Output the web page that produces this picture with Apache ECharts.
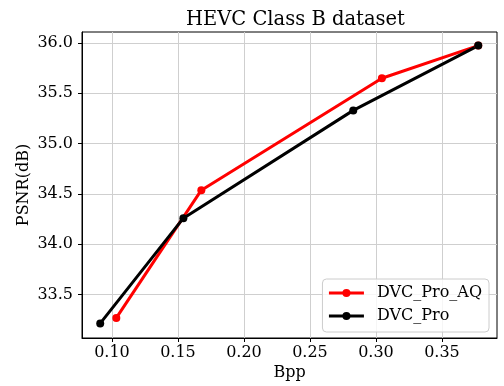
<!DOCTYPE html>
<html>
<head>
<meta charset="utf-8">
<script src="https://cdn.jsdelivr.net/npm/echarts@6/dist/echarts.min.js"></script>
<style>html,body{margin:0;padding:0;background:#fff;}#c{width:504px;height:386px;}</style>
</head>
<body>
<div id="c"></div>
<script>
const titleText = 'HEVC Class B dataset';
const xName = 'Bpp';
const yName = 'PSNR(dB)';
const aqName = 'DVC_Pro_AQ';
const aqBpp = [0.1033, 0.1677, 0.3045, 0.3775];
const aqPsnr = [33.267, 34.536, 35.648, 35.973];
const proName = 'DVC_Pro';
const proBpp = [0.0911, 0.1541, 0.2828, 0.3775];
const proPsnr = [33.212, 34.258, 35.329, 35.973];
const xTicks = [0.10, 0.15, 0.20, 0.25, 0.30, 0.35];
const yTicks = [33.5, 34.0, 34.5, 35.0, 35.5, 36.0];

const font = 'DejaVu Serif';
const chart = echarts.init(document.getElementById('c'), null, {renderer: 'canvas'});
const pair = (xs, ys) => xs.map((x, i) => [x, ys[i]]);
chart.setOption({
  animation: false,
  backgroundColor: '#fff',
  title: {
    text: titleText, left: 181, top: 5,
    textStyle: {fontFamily: font, fontSize: 19.5, fontWeight: 'normal', color: '#000'}
  },
  grid: {left: 82, right: 7, top: 32, bottom: 45, show: true, borderColor: '#000', borderWidth: 1, containLabel: false},
  legend: {
    right: 15, top: 279, orient: 'vertical',
    data: [aqName, proName],
    itemWidth: 35, itemHeight: 10, itemGap: 7,
    padding: [6, 7, 8, 5],
    lineStyle: {width: 3},
    backgroundColor: 'rgba(255,255,255,0.8)', borderColor: '#cccccc', borderWidth: 1, borderRadius: 4,
    textStyle: {fontFamily: font, fontSize: 16, color: '#000', padding: [0, 0, 0, 8]}
  },
  xAxis: {
    type: 'value', min: 0.0773, max: 0.3917,
    name: xName, nameLocation: 'middle', nameGap: 27, nameMoveOverlap: false,
    nameTextStyle: {fontFamily: font, fontSize: 16, color: '#000'},
    axisLine: {show: true, lineStyle: {color: '#000'}},
    axisTick: {show: true, customValues: xTicks, length: 4, lineStyle: {color: '#000'}},
    axisLabel: {customValues: xTicks, formatter: v => v.toFixed(2), fontFamily: font, fontSize: 16, color: '#000', margin: 7},
    splitLine: {show: true, lineStyle: {color: '#cfcfcf', width: 1}}
  },
  yAxis: {
    type: 'value', min: 33.067, max: 36.108,
    name: yName, nameLocation: 'middle', nameGap: 50, nameRotate: 90, nameMoveOverlap: false,
    nameTextStyle: {fontFamily: font, fontSize: 16, color: '#000'},
    axisLine: {show: true, lineStyle: {color: '#000'}},
    axisTick: {show: true, customValues: yTicks, length: 4, lineStyle: {color: '#000'}},
    axisLabel: {customValues: yTicks, formatter: v => v.toFixed(1), fontFamily: font, fontSize: 16, color: '#000', margin: 9},
    splitLine: {show: true, lineStyle: {color: '#cfcfcf', width: 1}}
  },
  series: [
    {
      name: aqName, type: 'line', data: pair(aqBpp, aqPsnr),
      symbol: 'circle', symbolSize: 8, lineStyle: {color: '#ff0000', width: 3}, itemStyle: {color: '#ff0000'}
    },
    {
      name: proName, type: 'line', data: pair(proBpp, proPsnr),
      symbol: 'circle', symbolSize: 8, lineStyle: {color: '#000000', width: 3}, itemStyle: {color: '#000000'}
    }
  ]
});
</script>
</body>
</html>
